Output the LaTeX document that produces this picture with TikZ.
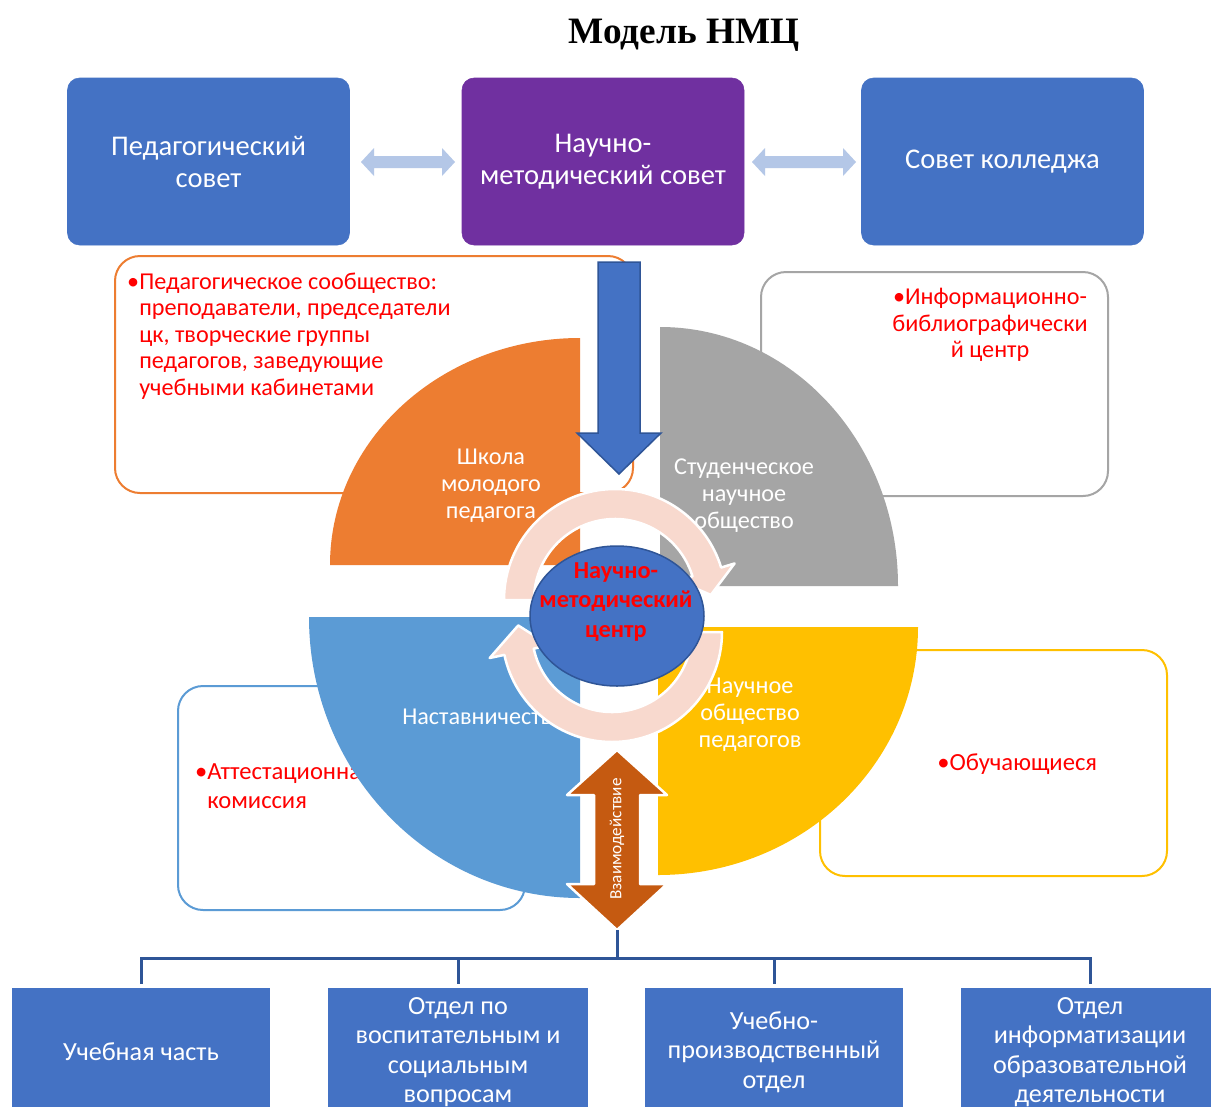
\documentclass[tikz,border=0pt]{standalone}
\usepackage{fontspec}
\setmainfont{Carlito}
\newfontfamily\titlefont{Liberation Serif}
\usetikzlibrary{shapes.geometric}
\newlength\pxu
\setlength\pxu{0.025cm}
\definecolor{cblue}{HTML}{4472C4}
\definecolor{cdark}{HTML}{2F5597}
\definecolor{cpurple}{HTML}{7030A0}
\definecolor{clight}{HTML}{B4C7E7}
\definecolor{corange}{HTML}{ED7D31}
\definecolor{cgray}{HTML}{A5A5A5}
\definecolor{csky}{HTML}{5B9BD5}
\definecolor{cyellow}{HTML}{FFC000}
\definecolor{cring}{HTML}{F8D9CE}
\definecolor{cbrown}{HTML}{C55A11}
\definecolor{cred}{HTML}{FF0000}
\begin{document}
\begin{tikzpicture}[x=0.025cm,y=0.025cm,
  topbox/.style={fill=#1, draw=#1, rounded corners=12\pxu, minimum width=282\pxu,
    minimum height=167\pxu, text=white, align=center, inner sep=0pt,
    font=\fontsize{20.3}{22.8}\selectfont},
  botbox/.style={fill=cblue, minimum width=258\pxu, minimum height=128\pxu,
    text=white, align=center, inner sep=0pt, font=\fontsize{18.6}{21}\selectfont},
  infobox/.style={draw=#1, line width=2\pxu, fill=white, rounded corners=25\pxu,
    inner sep=0pt},
  redtxt/.style={text=cred, inner sep=0pt, font=\fontsize{17.2}{18.8}\selectfont},
  redtxtb/.style={text=cred, inner sep=0pt, font=\fontsize{17.5}{20.6}\selectfont},
  quadtxt/.style={text=white, inner sep=0pt, align=center, font=\fontsize{17.2}{19.2}\selectfont},
  lightarrow/.style={fill=clight},
  ringstyle/.style={fill=cring, draw=white, line width=2.5\pxu, line join=round},
  tree/.style={draw=cdark, line width=3\pxu}
]
\useasboundingbox (0,0) rectangle (1211,-1106);
\clip (0,0) rectangle (1211,-1106);
\fill[white] (0,0) rectangle (1211,-1106);

% title
\node[font={\titlefont\bfseries\fontsize{26.5}{30}\selectfont}] (title) at (684,-35) {Модель НМЦ};

% top boxes
\node[topbox=cblue] (ped) at (208.5,-161.5) {Педагогический\\совет};
\node[topbox=cpurple] (nms) at (603,-161.5) {Научно-\\методический совет};
\node[topbox=cblue] (sk) at (1002.5,-161.5) {Совет колледжа};
\foreach \a/\b in {361/455, 752/856}{
  \fill[lightarrow] (\a,-162) -- (\a+13,-148) -- (\a+13,-156) -- (\b-13,-156) -- (\b-13,-148)
    -- (\b,-162) -- (\b-13,-176) -- (\b-13,-168) -- (\a+13,-168) -- (\a+13,-176) -- cycle;
}

% info boxes
\node[infobox=corange, minimum width=518\pxu, minimum height=237\pxu] (pedbox) at (374,-374.5) {};
\node[infobox=cgray, minimum width=347\pxu, minimum height=224\pxu] (infobox) at (934.5,-384) {};
\node[infobox=csky, minimum width=347\pxu, minimum height=224\pxu] (attbox) at (351.5,-798) {};
\node[infobox=cyellow, minimum width=347\pxu, minimum height=226\pxu] (obbox) at (993.5,-763) {};
\node[redtxt, anchor=west, align=left] (pedtxt) at (139,-336)
  {\llap{•}Педагогическое сообщество:\\преподаватели, председатели\\цк, творческие группы\\педагогов, заведующие\\учебными кабинетами};
\node[redtxt, align=center] (infotxt) at (990,-325) {•Информационно-\\библиографически\\й центр};
\node[redtxtb, anchor=west, align=left] (atttxt) at (207,-786) {\llap{•}Аттестационная\\комиссия};
\node[redtxtb, anchor=west] (obtxt) at (937,-764) {•Обучающиеся};

% quadrants
\fill[corange] (580,-565) -- (330,-565) arc[start angle=180,end angle=90,x radius=250,y radius=227] -- cycle;
\fill[cgray] (660,-586) -- (660,-327) arc[start angle=90,end angle=0,x radius=238,y radius=259] -- cycle;
\fill[csky] (580,-617) -- (309,-617) arc[start angle=180,end angle=270,x radius=271,y radius=281] -- cycle;
\fill[cyellow] (658,-627) -- (918,-627) arc[start angle=0,end angle=-90,x radius=260,y radius=248] -- cycle;
\node[quadtxt] (q1) at (491,-486) {Школа\\молодого\\педагога};
\node[quadtxt] (q2) at (744,-495.5) {Студенческое\\научное\\общество};
\node[quadtxt, anchor=west] (q3) at (402,-717) {Наставничество};
\node[quadtxt] (q4) at (750,-714.5) {Научное\\общество\\педагогов};

% down arrow
\filldraw[fill=cblue, draw=cdark, line width=1.5\pxu] (598,-262) -- (640,-262) -- (640,-433) -- (661,-433)
  -- (619,-474) -- (577,-433) -- (598,-433) -- cycle;

% rings
\coordinate (C1) at (615,-600);
\coordinate (C2) at (612,-632);
\filldraw[ringstyle] ([shift={(180:111)}]C1) arc[start angle=180,end angle=17,radius=111]
  -- ([shift={(17:125)}]C1) -- ([shift={(3:96)}]C1) -- ([shift={(17:66)}]C1)
  -- ([shift={(17:81)}]C1) arc[start angle=17,end angle=180,radius=81] -- cycle;
\filldraw[ringstyle] ([shift={(0:110)}]C2) arc[start angle=0,end angle=-168,radius=110]
  -- ([shift={(-168:125)}]C2) -- ([shift={(-184:94)}]C2) -- ([shift={(-168:64)}]C2)
  -- ([shift={(-168:80)}]C2) arc[start angle=-168,end angle=0,radius=80] -- cycle;

% centre
\node[ellipse, fill=cblue, draw=cdark, line width=1.5\pxu, minimum width=174\pxu,
  minimum height=140\pxu, inner sep=0pt] (nmc) at (617,-616) {};
\node[text=cred, align=center, inner sep=0pt, font=\bfseries\fontsize{17.3}{20.8}\selectfont]
  (nmctxt) at (616,-602) {Научно-\\методический\\центр};

% interaction arrow
\filldraw[fill=cbrown, draw=white, line width=2.5\pxu, line join=round]
  (617,-750) -- (667,-795) -- (640,-795) -- (640,-884) -- (667,-884) -- (617,-930)
  -- (567,-884) -- (594,-884) -- (594,-795) -- (567,-795) -- cycle;
\node[rotate=90, text=white, inner sep=0pt, font=\fontsize{12.2}{14}\selectfont] (vz) at (617,-839) {Взаимодействие};
\coordinate (vzbot) at (617,-930);
\coordinate (hub) at (617,-958);

% bottom boxes
\node[botbox] (b1) at (141,-1052) {Учебная часть};
\node[botbox, minimum width=260\pxu] (b2) at (458,-1052) {Отдел по\\воспитательным и\\социальным\\вопросам};
\node[botbox] (b3) at (774,-1052) {Учебно-\\производственный\\отдел};
\node[botbox] (b4) at (1090,-1052) {Отдел\\информатизации\\образовательной\\деятельности};

% tree
\draw[tree] (vzbot) -- (hub);
\foreach \b in {b1,b2,b3,b4}{
  \draw[tree, shorten >=4\pxu] (hub) -| (\b.north);
}
\end{tikzpicture}
\end{document}
